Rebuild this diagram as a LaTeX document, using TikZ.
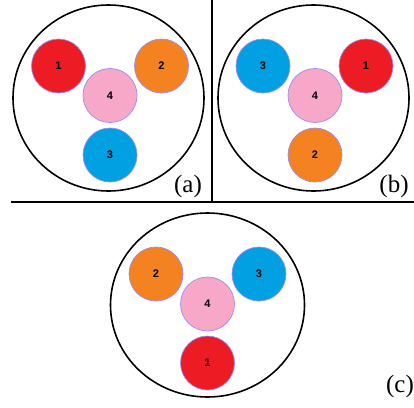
\documentclass[tikz,border=0pt]{standalone}
\usepackage{fontspec}
\setmainfont{Liberation Serif}
\setsansfont{Liberation Sans}
\usetikzlibrary{positioning}

\definecolor{ballred}{HTML}{ED1C24}
\definecolor{ballorange}{HTML}{F58220}
\definecolor{ballblue}{HTML}{00A0E3}
\definecolor{ballpink}{HTML}{F7A8C8}
\definecolor{ballrim}{HTML}{9C8CF0}

\tikzset{
  ball/.style={circle, draw=ballrim, line width=0.7pt, minimum size=54pt, inner sep=0pt,
    font=\sffamily\bfseries\fontsize{11}{11}\selectfont},
  tray/.style={line width=1.6pt},
  tag/.style={font=\fontsize{25}{25}\selectfont, inner sep=0pt}
}

\begin{document}
\begin{tikzpicture}[x=1pt, y=-1pt]
\useasboundingbox (0,0) rectangle (414,407);

% Frame lines
\draw[tray] (212,0) -- (212,202);
\draw[tray] (11,202) -- (414,202);

% Top left - (a)
\begin{scope}[shift={(108.5,98)}]
\draw[tray] (0,0) ellipse (95.5 and 93);
\node[ball, fill=ballred] (a1) at (-50,-32) {1};
\node[ball, fill=ballorange] (a2) at (53,-32) {2};
\node[ball, fill=ballpink] (a4) at (1.5,-2.5) {4};
\node[ball, fill=ballblue] (a3) at (1.5,57) {3};
\end{scope}
\node[tag] (ta) at (188,186) {(a)};

% Top right - (b)
\begin{scope}[shift={(313.5,98)}]
\draw[tray] (0,0) ellipse (95.5 and 93);
\node[ball, fill=ballblue] (b3) at (-50.5,-32) {3};
\node[ball, fill=ballred] (b1) at (52.5,-32) {1};
\node[ball, fill=ballpink] (b4) at (1.5,-2.5) {4};
\node[ball, fill=ballorange] (b2) at (1.5,57) {2};
\end{scope}
\node[tag] (tb) at (394,186) {(b)};

% Bottom - (c)
\begin{scope}[shift={(207.5,305)}]
\draw[tray] (0,0) ellipse (97 and 92);
\node[ball, fill=ballorange] (c2) at (-51.5,-31) {2};
\node[ball, fill=ballblue] (c3) at (51.5,-31) {3};
\node[ball, fill=ballpink] (c4) at (0,-1) {4};
\node[ball, fill=ballred] (c1) at (0,58) {1};
\end{scope}
\node[tag] (tc) at (400,386) {(c)};
\end{tikzpicture}
\end{document}
